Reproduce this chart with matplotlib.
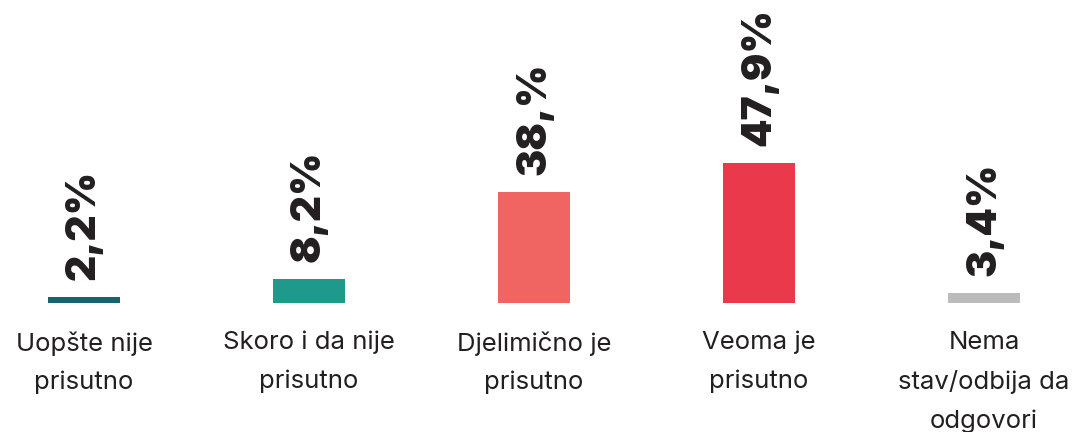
import matplotlib
matplotlib.use("Agg")
import matplotlib.pyplot as plt
import matplotlib.transforms as mtransforms

categories = ["Uopšte nije\nprisutno", "Skoro i da nije\nprisutno", "Djelimično je\nprisutno",
              "Veoma je\nprisutno", "Nema\nstav/odbija da\nodgovori"]
values = [2.2, 8.2, 38.0, 47.9, 3.4]
value_labels = ["2,2%", "8,2%", "38,%", "47,9%", "3,4%"]
colors = ["#16636e", "#1f9a8a", "#f06462", "#e9394a", "#bbbbbb"]

W, H = 1073, 432
fig = plt.figure(figsize=(W / 100, H / 100), dpi=100)
base_px = 303
ax = fig.add_axes([0, (H - base_px) / H, 1, base_px / H])
ax.set_xlim(-84 / 225, (W - 84) / 225)
ax.set_ylim(0, base_px / 2.93)
ax.axis("off")

x = list(range(len(values)))
ax.bar(x, values, width=0.316, color=colors)

for xi, v, lab in zip(x, values, value_labels):
    ax.annotate(lab, (xi, v), xytext=(0, 12), textcoords="offset points",
                rotation=90, ha="center", va="bottom", fontsize=29.3,
                fontweight=900, family="Inter", color="#231f20")

trans = mtransforms.blended_transform_factory(ax.transData, fig.transFigure)
for xi, c in zip(x, categories):
    ax.text(xi, 1 - 331 / H, c, transform=trans, ha="center", va="top",
            multialignment="center", fontsize=18.5, family="Inter",
            color="#231f20", linespacing=1.83)

fig.savefig("out.png", dpi=100)
